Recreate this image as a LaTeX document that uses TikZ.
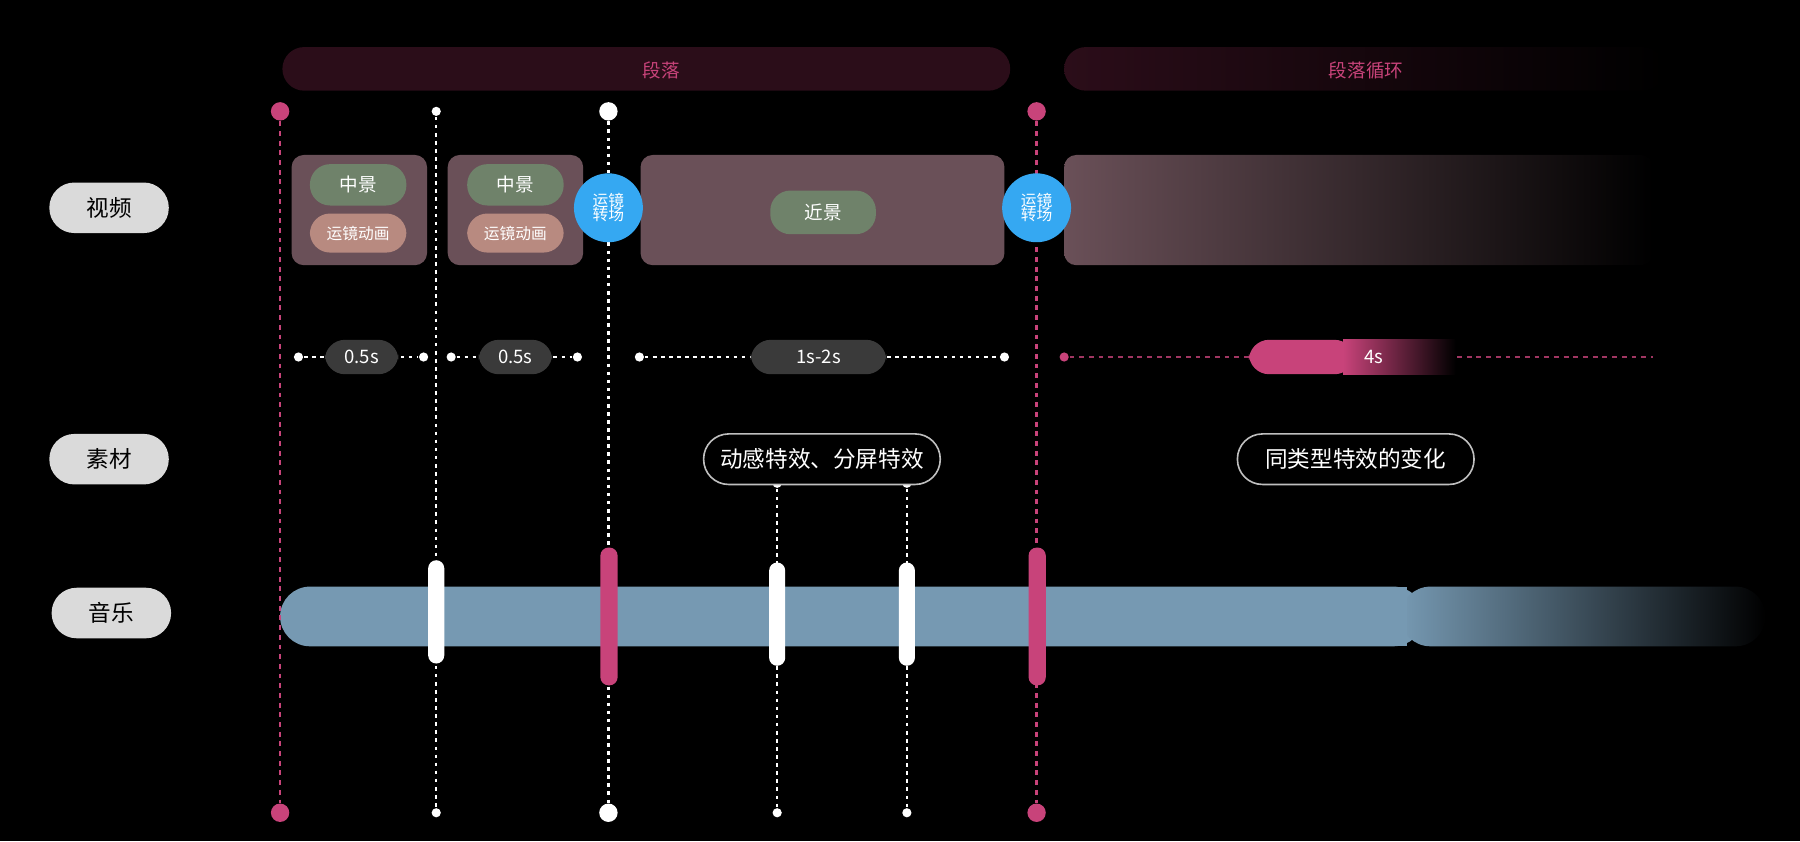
\documentclass[tikz,border=0pt]{standalone}
\usepackage{fontspec}
\setmainfont{Noto Sans CJK SC}
\definecolor{bgbar}{HTML}{2B0D19}
\definecolor{pinkt}{HTML}{C8437A}
\definecolor{mauve}{HTML}{6A5058}
\definecolor{greenp}{HTML}{6F826A}
\definecolor{rosep}{HTML}{B88A80}
\definecolor{bluec}{HTML}{35A8F2}
\definecolor{darkp}{HTML}{3A3A3A}
\definecolor{musicb}{HTML}{7699B2}
\definecolor{lab}{HTML}{DADADA}
\begin{document}
\begin{tikzpicture}[x=0.01cm,y=-0.01cm,
  big/.style={font=\fontsize{5.6}{6}\selectfont},
  mid/.style={font=\fontsize{4.6}{5}\selectfont},
  sml/.style={font=\fontsize{3.9}{4.4}\selectfont},
  lab/.style={fill=lab,rounded corners=6.2pt,minimum width=104\pgflinewidth,text=black,big,inner sep=0pt},
  pill/.style={rounded corners=5pt,inner sep=0pt},
  vbox/.style={fill=mauve,rounded corners=3pt},
  pdash/.style={pinkt,line width=0.6pt,dash pattern=on 1.2pt off 1.2pt},
  wdot/.style={white,line width=0.55pt,dash pattern=on 0.9pt off 1.1pt},
  bigdotp/.style={circle,fill=pinkt,inner sep=0pt,minimum size=0.16cm},
  bigdotw/.style={circle,fill=white,inner sep=0pt,minimum size=0.16cm},
  smdot/.style={circle,fill=white,inner sep=0pt,minimum size=0.08cm},
  smdotp/.style={circle,fill=pinkt,inner sep=0pt,minimum size=0.08cm},
  outl/.style={draw=white!75!black,line width=0.4pt,fill=black,text=white,rounded corners=6.2pt,minimum width=2.06cm,minimum height=0.44cm,big,inner sep=0pt}]
\fill[black] (0,0) rectangle (1568,733);
\useasboundingbox (0,0) rectangle (1568,733);
% top bars
\fill[bgbar,rounded corners=5.4pt] (246,41) rectangle (880,79);
\node[text=pinkt,mid] (t1) at (576,61) {段落};
\shade[left color=bgbar,right color=black,rounded corners=5.4pt] (927,41) rectangle (1450,79);
\node[text=pinkt,mid] (t2) at (1190,61) {段落循环};
% left labels
\node[lab,minimum width=1.04cm,minimum height=0.44cm] (l1) at (95,181) {视频};
\node[lab,minimum width=1.04cm,minimum height=0.44cm] (l2) at (95,400) {素材};
\node[lab,minimum width=1.04cm,minimum height=0.44cm] (l3) at (97,534) {音乐};
% music bar
\fill[musicb,rounded corners=7.4pt] (244,511) rectangle (1240,563);
\shade[left color=musicb,right color=black,rounded corners=7.4pt] (1220,511) rectangle (1538,563);
\fill[musicb] (1215,511) rectangle (1226,563);
% vertical lines
\node[bigdotp] (p1t) at (244,97) {}; \node[bigdotp] (p1b) at (244,708) {};
\draw[pdash] (p1t) -- (p1b);
\node[smdot] (w1t) at (380,97) {}; \node[smdot] (w1b) at (380,708) {};
\draw[wdot] (w1t) -- (w1b);
\node[bigdotw] (w2t) at (530,97) {}; \node[bigdotw] (w2b) at (530,708) {};
\draw[wdot] (w2t) -- (w2b);
\node[bigdotp] (p2t) at (903,97) {}; \node[bigdotp] (p2b) at (903,708) {};
\draw[pdash] (p2t) -- (p2b);
\node[smdot] (w3t) at (677,421) {}; \node[smdot] (w3b) at (677,708) {};
\draw[wdot] (w3t) -- (w3b);
\node[smdot] (w4t) at (790,421) {}; \node[smdot] (w4b) at (790,708) {};
\draw[wdot] (w4t) -- (w4b);
% video boxes
\fill[vbox] (254,135) rectangle (372,231);
\fill[vbox] (390,135) rectangle (508,231);
\fill[vbox] (558,135) rectangle (875,231);
\shade[left color=mauve,right color=black,rounded corners=3pt] (927,135) rectangle (1440,231);
\node[pill,fill=greenp,text=white,minimum width=0.84cm,minimum height=0.36cm,mid] (g1) at (312,161) {中景};
\node[pill,fill=rosep,text=white,minimum width=0.84cm,minimum height=0.34cm,sml] (r1) at (312,203) {运镜动画};
\node[pill,fill=greenp,text=white,minimum width=0.84cm,minimum height=0.36cm,mid] (g2) at (449,161) {中景};
\node[pill,fill=rosep,text=white,minimum width=0.84cm,minimum height=0.34cm,sml] (r2) at (449,203) {运镜动画};
\node[pill,fill=greenp,text=white,minimum width=0.92cm,minimum height=0.38cm,mid] (g3) at (717,185) {近景};
\node[circle,fill=bluec,text=white,minimum size=0.6cm,inner sep=0pt,sml,align=center] (c1) at (530,181) {运镜\\[-1pt]转场};
\node[circle,fill=bluec,text=white,minimum size=0.6cm,inner sep=0pt,sml,align=center] (c2) at (903,181) {运镜\\[-1pt]转场};
% durations
\node[smdot] (d1a) at (260,311) {}; \node[smdot] (d1b) at (369,311) {};
\draw[wdot] (d1a) -- (d1b);
\node[pill,fill=darkp,text=white,minimum width=0.64cm,minimum height=0.3cm,mid] (s1) at (315,311) {0.5s};
\node[smdot] (d2a) at (393,311) {}; \node[smdot] (d2b) at (503,311) {};
\draw[wdot] (d2a) -- (d2b);
\node[pill,fill=darkp,text=white,minimum width=0.64cm,minimum height=0.3cm,mid] (s2) at (449,311) {0.5s};
\node[smdot] (d3a) at (557,311) {}; \node[smdot] (d3b) at (875,311) {};
\draw[wdot] (d3a) -- (d3b);
\node[pill,fill=darkp,text=white,minimum width=1.18cm,minimum height=0.3cm,mid] (s3) at (713,311) {1s-2s};
\node[smdotp] (d4a) at (927,311) {}; \coordinate (d4b) at (1440,311);
\draw[pinkt!80!black,line width=0.5pt,dash pattern=on 1.2pt off 1.2pt] (d4a) -- (d4b);
\fill[pinkt,rounded corners=5pt] (1088,296) rectangle (1180,326);
\shade[left color=pinkt,right color=black,rounded corners=0pt] (1170,296) rectangle (1268,326);
\node[text=white,mid] (s4) at (1197,311) {4s};
% materials
\node[outl] (m1) at (716,400) {动感特效、分屏特效};
\node[outl] (m2) at (1181,400) {同类型特效的变化};
% markers
\fill[white,rounded corners=2pt] (373,488) rectangle (387,578);
\fill[pinkt,rounded corners=2pt] (523,477) rectangle (538,597);
\fill[white,rounded corners=2pt] (670,490) rectangle (684,580);
\fill[white,rounded corners=2pt] (783,490) rectangle (797,580);
\fill[pinkt,rounded corners=2pt] (896,477) rectangle (911,597);
\end{tikzpicture}
\end{document}
